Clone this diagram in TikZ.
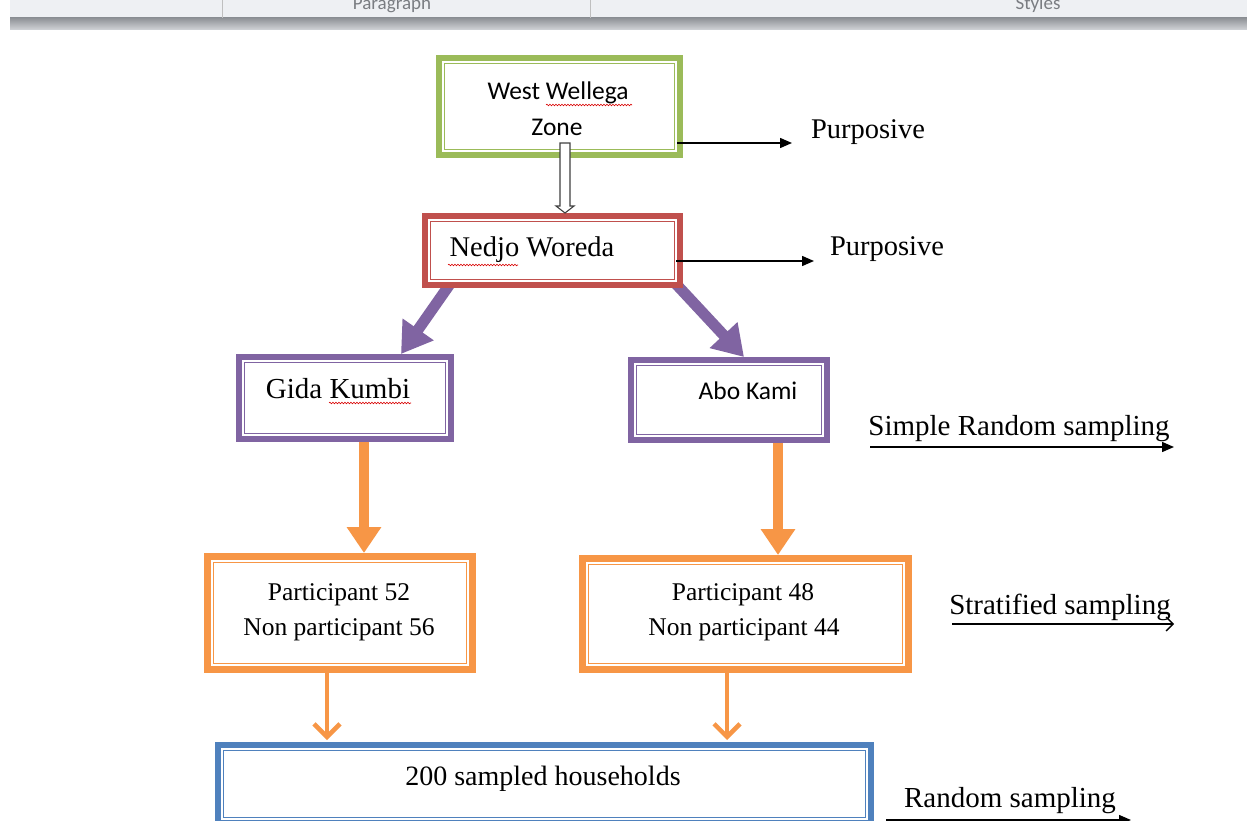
\documentclass[tikz,border=0pt]{standalone}
\usepackage{fontspec}
\setmainfont{Liberation Serif}
\newfontfamily\calfont{Carlito}
\usetikzlibrary{arrows.meta,calc,decorations.pathmorphing}
\definecolor{cgreen}{HTML}{9BBB59}
\definecolor{cred}{HTML}{C0504D}
\definecolor{cpurple}{HTML}{8064A2}
\definecolor{corange}{HTML}{F79646}
\definecolor{cblue}{HTML}{4F81BD}
\definecolor{tbarlight}{HTML}{EEF0F3}
\definecolor{tbartop}{HTML}{8F9297}
\definecolor{tbarbot}{HTML}{D2D4D8}
\definecolor{tbtext}{HTML}{7A7D82}
\newcommand\fsz[1]{\fontsize{#1}{#1}\selectfont}
\newcommand\innerframe[3]{\draw[#2, line width=1.4pt] ($(#1.south west)+(#3,-#3)$) rectangle ($(#1.north east)+(-#3,#3)$);}
\pgfdeclarelayer{bg}
\pgfdeclarelayer{paper}
\pgfsetlayers{paper,bg,main}
\begin{document}
\begin{tikzpicture}[x=1pt,y=-1pt,
  dbox/.style={draw=#1, line width=6pt, fill=white, inner sep=0pt, outer sep=3pt},
  obox/.style={draw=corange, line width=7pt, fill=white, inner sep=0pt, outer sep=3.5pt},
  txt/.style={inner sep=0pt, text=black},
  blk/.style={draw=black, line width=1.4pt, -{Triangle[length=12pt,width=10pt]}},
  blkopen/.style={draw=black, line width=1.3pt, -{Straight Barb[length=7pt,width=14pt]}},
  parr/.style={draw=cpurple, line width=11pt, -{Triangle[length=30pt,width=36pt]}},
  oarr/.style={draw=corange, line width=10pt, -{Triangle[length=26pt,width=33pt]}},
  othin/.style={draw=corange, line width=4.5pt, -{Straight Barb[length=13pt,width=26pt]}},
  hollow/.style={draw=black!75, line width=1.1pt, fill=white},
  wavy/.style={draw=red!85!black, line width=0.6pt, decorate, decoration={snake, amplitude=0.8pt, segment length=3pt}}]
\useasboundingbox (0,0) rectangle (1247,821);
\clip (0,0) rectangle (1247,821);
\begin{pgfonlayer}{paper}
\fill[white] (0,0) rectangle (1247,821);
\end{pgfonlayer}

% toolbar strip of the screenshot
\fill[tbarlight] (10,0) rectangle (1247,18);
\shade[top color=tbartop, bottom color=tbarbot] (10,18) rectangle (1247,30);
\draw[black!25, line width=0.8pt] (222,0) -- (222,18);
\draw[black!25, line width=0.8pt] (590,0) -- (590,18);
\node[anchor=base, inner sep=0pt, font=\calfont\fsz{19}, text=tbtext] (tbp) at (392,10) {Paragraph};
\node[anchor=base, inner sep=0pt, font=\calfont\fsz{19}, text=tbtext] (tbs) at (1038,10) {Styles};

% boxes
\node[dbox=cgreen, minimum width=241pt, minimum height=97pt] (ww) at (559.5,106.5) {};
\node[dbox=cred, minimum width=255pt, minimum height=69pt] (nw) at (552.5,250.5) {};
\node[dbox=cpurple, minimum width=212pt, minimum height=82pt] (gk) at (345,398) {};
\node[dbox=cpurple, minimum width=196pt, minimum height=80pt] (ak) at (729,400) {};
\node[obox, minimum width=265pt, minimum height=113pt] (pa) at (340,613) {};
\node[obox, minimum width=326pt, minimum height=111pt] (pb) at (745.5,614) {};
\node[dbox=cblue, minimum width=653pt, minimum height=78pt] (hh) at (544.5,784) {};
\innerframe{ww}{cgreen}{8.5}
\innerframe{nw}{cred}{8.5}
\innerframe{gk}{cpurple}{8.5}
\innerframe{ak}{cpurple}{8.5}
\innerframe{pa}{corange}{9.5}
\innerframe{pb}{corange}{9.5}
\innerframe{hh}{cblue}{8.5}

% box texts
\node[txt, font=\calfont\fsz{25.5}] (t1) at (558,93) {West Wellega};
\node[txt, font=\calfont\fsz{25.5}] (t2) at (557,127) {Zone};
\node[txt, font=\fsz{28.5}] (t3) at (532,250) {Nedjo Woreda};
\node[txt, font=\fsz{29}] (t4) at (338,389) {Gida Kumbi};
\node[txt, font=\calfont\fsz{25.5}] (t5) at (748,391) {Abo Kami};
\node[txt, font=\fsz{25.5}] (t6) at (339,595) {Participant 52};
\node[txt, font=\fsz{25.5}] (t7) at (339,630) {Non participant 56};
\node[txt, font=\fsz{25.5}] (t8) at (743,595) {Participant 48};
\node[txt, font=\fsz{25.5}] (t9) at (744,630) {Non participant 44};
\node[txt, font=\fsz{28}] (t10) at (543,779) {200 sampled households};

% spell-check underlines
\draw[wavy] (546,105) -- (632,105);
\draw[wavy] (448,265) -- (518,265);
\draw[wavy] (329,403) -- (411,403);

% side labels
\node[txt, font=\fsz{28.5}] (pu1t) at (868,132) {Purposive};
\node[txt, font=\fsz{28.5}] (pu2t) at (887,249) {Purposive};
\node[txt, font=\fsz{29}] (srt) at (1019,429) {Simple Random sampling};
\node[txt, font=\fsz{29}] (stt) at (1060,607) {Stratified sampling};
\node[txt, font=\fsz{29}] (rst) at (1010,801) {Random sampling};

\coordinate (pu1) at (792,143);
\coordinate (pu2) at (814,261);
\coordinate (sr1) at (870,447);
\coordinate (sr2) at (1174,447);
\coordinate (st1) at (952,624);
\coordinate (st2) at (1174,624);
\coordinate (rs1) at (886,820);
\coordinate (rs2) at (1131,820);

% connectors under boxes
\begin{pgfonlayer}{bg}
\draw[parr] ([xshift=28pt,yshift=4pt]nw.south west) -- ([xshift=56pt]gk.north);
\draw[parr] ([xshift=-7pt,yshift=4pt]nw.south east) -- ([xshift=15pt]ak.north);
\draw[oarr] ([xshift=19pt,yshift=4pt]gk.south) -- ([xshift=19pt]gk.south |- pa.north);
\draw[oarr] ([xshift=49pt,yshift=4pt]ak.south) -- ([xshift=49pt]ak.south |- pb.north);
\draw[othin] ([xshift=-13pt,yshift=4pt]pa.south) -- ([xshift=-13pt,yshift=2pt]pa.south |- hh.north);
\draw[othin] ([xshift=-18.5pt,yshift=4pt]pb.south) -- ([xshift=-18.5pt,yshift=2pt]pb.south |- hh.north);
\end{pgfonlayer}

% hollow block arrow
\coordinate (ha) at ([xshift=5.5pt,yshift=15pt]ww.south);
\coordinate (hb) at (ha |- nw.north);
\draw[hollow] ($(ha)+(-5,0)$) -- ($(hb)+(-5,-7)$) -- ($(hb)+(-9,-7)$) -- (hb)
  -- ($(hb)+(9,-7)$) -- ($(hb)+(5,-7)$) -- ($(ha)+(5,0)$) -- cycle;

% thin black arrows
\draw[blk] ([xshift=-6pt,yshift=15pt]ww.south east) -- (pu1);
\draw[blk] ([xshift=-7pt,yshift=27pt]nw.south east) -- (pu2);
\draw[blk] (sr1) -- (sr2);
\draw[blkopen] (st1) -- (st2);
\draw[blk] (rs1) -- (rs2);
\end{tikzpicture}
\end{document}
